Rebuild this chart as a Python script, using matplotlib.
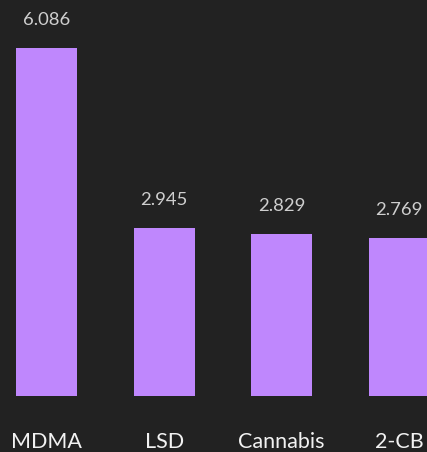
import matplotlib.pyplot as plt

plt.rcParams['font.family'] = ['Lato', 'DejaVu Sans']

# data
drugs = ['MDMA', 'LSD', 'Cannabis', '2-CB']
scores = [6.086, 2.945, 2.829, 2.769]
value_labels = ['6.086', '2.945', '2.829', '2.769']

bg = '#222222'
bar_color = '#bf87fd'

fig = plt.figure(figsize=(4.272, 4.522), dpi=100, facecolor=bg)
ax = fig.add_axes([0, 56 / 452, 1, 396 / 452])
ax.set_facecolor(bg)

x = list(range(len(drugs)))
ax.bar(x, scores, width=0.52, color=bar_color)

ax.set_xlim(-46.5 / 117.5, (427 - 46.5) / 117.5)
ax.set_ylim(0, 396 / 57.18)

for i, (v, lab) in enumerate(zip(scores, value_labels)):
    ax.annotate(lab, xy=(i, v), xytext=(0, 23), textcoords='offset pixels',
                ha='center', va='baseline', fontsize=13.3, color='#cfcfcf')
    ax.annotate(drugs[i], xy=(i, 0), xycoords=('data', 'axes fraction'),
                xytext=(0, -52), textcoords='offset pixels',
                ha='center', va='baseline', fontsize=15.5, color='#f2f2f2')

ax.axis('off')

fig.savefig('out.png', dpi=100, facecolor=bg)
